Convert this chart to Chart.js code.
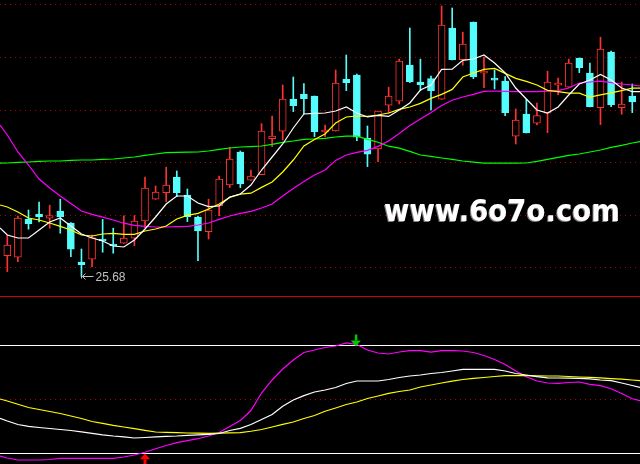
<!DOCTYPE html>
<html>
<head>
<meta charset="utf-8">
<script src="https://cdn.jsdelivr.net/npm/chart.js@4.4.1/dist/chart.umd.min.js"></script>
<style>
html, body { margin: 0; padding: 0; background: #000; }
#wrap { width: 640px; height: 464px; background: #000; }
canvas { display: block; }
</style>
</head>
<body>
<div id="wrap">
<canvas id="kline" width="640" height="296"></canvas>
<canvas id="kdj" width="640" height="168"></canvas>
</div>
<script>
// daily candles, oldest first
const opens = [
  26.72, 26.64, 28.55, 28.80, 28.59, 28.95, 28.34, 26.39, 26.54, 27.50,
  27.30, 27.34, 27.59, 28.45, 29.54, 29.87, 30.65, 29.74, 28.65, 27.92,
  29.22, 30.25, 31.90, 30.49, 30.77, 32.57, 32.94, 34.55, 34.80, 34.70,
  32.90, 32.95, 35.55, 35.75, 32.60, 32.05, 34.24, 34.44, 36.24, 35.40,
  35.57, 34.54, 38.10, 36.52, 38.40, 35.84, 35.54, 35.45, 32.69, 33.80,
  33.34, 33.84, 35.24, 35.14, 36.60, 35.85, 34.12, 36.89, 34.12, 34.70
];
const highs = [
  27.75, 28.70, 29.00, 29.39, 29.24, 29.54, 28.37, 27.05, 27.74, 28.53,
  28.09, 28.71, 28.72, 30.64, 30.20, 31.14, 30.95, 30.05, 28.70, 29.54,
  30.70, 32.14, 31.95, 31.00, 33.32, 33.70, 35.25, 35.65, 35.32, 34.70,
  33.25, 36.00, 36.75, 35.80, 33.20, 33.95, 35.14, 36.55, 38.10, 36.54,
  35.70, 39.20, 39.10, 37.89, 38.40, 36.64, 36.00, 35.67, 34.05, 34.54,
  34.34, 35.94, 35.59, 36.55, 36.60, 36.34, 37.64, 36.94, 35.40, 35.30
];
const lows = [
  25.92, 26.42, 28.04, 28.40, 28.09, 27.84, 26.67, 25.68, 26.17, 26.89,
  26.84, 27.33, 27.22, 28.12, 29.53, 29.42, 29.67, 28.42, 26.47, 27.55,
  28.72, 30.12, 30.12, 30.48, 30.76, 32.17, 32.50, 33.92, 33.80, 32.67,
  32.67, 32.94, 34.97, 32.47, 31.17, 31.42, 33.84, 34.30, 35.37, 34.97,
  34.00, 34.53, 36.50, 36.24, 35.57, 35.12, 35.05, 33.72, 32.30, 32.85,
  33.25, 32.87, 34.77, 35.13, 35.87, 34.16, 33.27, 34.17, 33.79, 33.87
];
const closes = [
  27.24, 28.59, 28.32, 28.67, 28.72, 28.67, 27.04, 26.27, 27.62, 27.45,
  27.20, 27.60, 28.45, 30.09, 29.89, 30.24, 29.87, 28.67, 27.95, 28.99,
  30.54, 31.55, 30.30, 30.70, 32.95, 32.69, 34.54, 34.22, 34.57, 32.92,
  32.93, 35.34, 35.37, 32.64, 31.79, 33.94, 34.69, 36.44, 35.42, 35.27,
  34.97, 38.24, 36.52, 37.30, 35.67, 35.95, 35.49, 33.87, 33.50, 32.87,
  33.72, 35.39, 35.30, 36.34, 36.12, 34.17, 37.04, 34.25, 34.29, 34.40
];

// moving averages: first value sits at the left canvas edge, last at the right edge
const ma5 = [28.10,
  27.75, 27.60, 27.60, 28.00, 28.40, 28.60, 28.20, 27.80, 27.60, 27.45,
  27.20, 27.15, 27.50, 28.05, 28.65, 29.30, 29.70, 29.70, 29.35, 29.17,
  29.20, 29.65, 29.80, 30.25, 31.00, 31.65, 32.30, 33.10, 33.80, 33.83,
  33.85, 33.95, 34.15, 33.85, 33.65, 33.73, 33.68, 34.00, 34.35, 35.00,
  35.25, 36.03, 36.04, 36.48, 36.55, 36.75, 36.35, 35.85, 35.10, 34.55,
  34.00, 33.85, 34.15, 34.75, 35.30, 35.50, 35.78, 35.50, 35.10, 34.92,
  34.92];
const ma10 = [29.25,
  29.15, 28.90, 28.60, 28.50, 28.35, 28.18, 28.00, 27.75, 27.70, 27.80,
  27.83, 27.78, 27.78, 27.95, 28.05, 28.20, 28.55, 28.73, 28.83, 29.05,
  29.30, 29.63, 29.79, 29.84, 30.13, 30.40, 30.90, 31.50, 32.20, 32.53,
  32.80, 33.35, 33.65, 33.70, 33.68, 33.75, 33.85, 34.03, 34.15, 34.33,
  34.58, 34.78, 35.03, 35.65, 35.85, 36.03, 36.08, 35.83, 35.58, 35.43,
  35.25, 34.98, 34.92, 34.84, 34.84, 34.64, 34.76, 34.86, 34.97, 35.09,
  35.09];
const ma20 = [33.25,
  32.75, 31.90, 31.25, 30.55, 30.10, 29.70, 29.33, 28.95, 28.78, 28.64,
  28.50, 28.34, 28.23, 28.18, 28.15, 28.15, 28.17, 28.18, 28.25, 28.35,
  28.53, 28.70, 28.83, 28.93, 29.10, 29.30, 29.70, 30.08, 30.43, 30.75,
  31.00, 31.48, 31.75, 31.88, 31.98, 32.18, 32.45, 32.83, 33.23, 33.55,
  33.88, 34.23, 34.49, 34.65, 34.78, 34.93, 34.95, 34.93, 34.92, 34.92,
  34.92, 34.94, 34.97, 35.10, 35.35, 35.40, 35.44, 35.37, 35.30, 35.25,
  35.20];
const ma60 = [31.34,
  31.35, 31.38, 31.40, 31.43, 31.45, 31.45, 31.48, 31.50, 31.50, 31.53,
  31.55, 31.60, 31.65, 31.73, 31.80, 31.87, 31.88, 31.89, 31.90, 31.95,
  32.03, 32.10, 32.15, 32.17, 32.20, 32.28, 32.38, 32.45, 32.53, 32.55,
  32.58, 32.65, 32.69, 32.69, 32.53, 32.39, 32.19, 32.09, 31.93, 31.75,
  31.68, 31.60, 31.53, 31.45, 31.39, 31.34, 31.34, 31.34, 31.34, 31.35,
  31.43, 31.53, 31.63, 31.73, 31.80, 31.90, 32.00, 32.13, 32.23, 32.35,
  32.42];

// KDJ indicator, same edge convention
const kLine = [39.28,
  37.78, 35.83, 34.83, 34.17, 33.61, 33.06, 32.50, 31.78, 30.94, 30.11,
  29.44, 29.00, 28.33, 28.61, 29.00, 29.28, 29.44, 29.83, 30.11, 30.39,
  30.83, 32.50, 33.72, 35.83, 38.61, 41.39, 46.00, 49.44, 51.90, 53.89,
  55.00, 56.39, 58.61, 60.00, 60.00, 60.00, 60.83, 61.94, 62.78, 63.33,
  64.17, 64.72, 65.56, 66.50, 66.50, 66.50, 66.50, 65.56, 64.17, 63.33,
  62.39, 61.78, 61.67, 61.56, 61.50, 61.22, 60.56, 60.17, 58.89, 57.50,
  56.50];
const dLine = [50.00,
  48.89, 47.06, 45.28, 44.17, 43.06, 41.94, 40.56, 39.17, 37.50, 36.50,
  35.39, 34.44, 33.50, 32.61, 31.67, 31.44, 31.28, 31.11, 31.00, 30.94,
  31.00, 31.17, 31.28, 32.10, 33.06, 34.44, 35.94, 37.22, 39.17, 40.83,
  43.17, 45.00, 46.94, 48.33, 50.28, 51.67, 53.17, 54.17, 55.00, 56.67,
  57.78, 58.89, 59.89, 60.83, 61.44, 61.94, 62.50, 62.94, 62.94, 62.94,
  62.89, 62.78, 62.78, 62.50, 62.22, 62.06, 61.72, 61.33, 61.06, 60.56,
  60.17];
const jLine = [18.33,
  17.22, 16.11, 16.11, 16.11, 16.39, 17.06, 17.06, 17.06, 17.06, 17.06,
  17.06, 17.78, 18.89, 20.39, 22.39, 24.17, 25.72, 26.89, 27.94, 29.44,
  31.39, 34.72, 38.06, 43.61, 53.33, 60.56, 66.67, 71.67, 75.83, 77.22,
  78.61, 79.44, 81.22, 80.28, 77.22, 75.56, 75.00, 76.11, 76.83, 76.83,
  76.00, 76.83, 76.83, 76.67, 75.83, 74.17, 71.94, 69.17, 65.56, 62.39,
  60.00, 58.89, 58.72, 59.17, 59.44, 58.17, 57.44, 55.72, 53.06, 50.11,
  49.06];

const priceGrid = [39.30, 36.65, 34.00, 31.40, 28.75, 26.15];
const kdjLevels = [80, 20];
const kdjMid = 50;
const buySignals = [13];   // candle index of the up arrow
const sellSignals = [33];  // candle index of the down arrow
const watermark = 'www.6o7o.com';

const xLeft = -0.69, xRight = 59.73;
const RED = '#ff3232', CYAN = '#54fcfc';

function edgePoints(vals) {
  const n = vals.length;
  return vals.map((v, i) => ({ x: i === 0 ? xLeft : (i === n - 1 ? xRight : i - 1), y: v }));
}

const isUp = opens.map((o, i) => closes[i] >= o);
const bodyData = opens.map((o, i) => ({ x: i, y: [o, closes[i]] }));
const wickData = lows.map((l, i) => ({ x: i, y: [l, highs[i]] }));

function lineSet(data, color, order) {
  return {
    type: 'line', data: edgePoints(data), borderColor: color, borderWidth: 1.2,
    pointRadius: 0, tension: 0, fill: false, order: order
  };
}

function dotted(ctx, area, py, color) {
  ctx.save();
  ctx.strokeStyle = color;
  ctx.lineWidth = 1;
  ctx.setLineDash([1, 4]);
  ctx.beginPath();
  ctx.moveTo(area.left, Math.round(py) + 0.5);
  ctx.lineTo(area.right, Math.round(py) + 0.5);
  ctx.stroke();
  ctx.restore();
}

const upperDeco = {
  id: 'upperDeco',
  beforeDraw(chart) {
    const ctx = chart.ctx;
    ctx.fillStyle = '#000';
    ctx.fillRect(0, 0, chart.width, chart.height);
  },
  beforeDatasetsDraw(chart) {
    const y = chart.scales.y;
    priceGrid.forEach(p => dotted(chart.ctx, chart.chartArea, y.getPixelForValue(p), '#b00000'));
  },
  afterDraw(chart) {
    const ctx = chart.ctx;
    const xs = chart.scales.x, ys = chart.scales.y;
    // lowest low marker
    const li = lows.indexOf(Math.min(...lows));
    const ax = Math.round(xs.getPixelForValue(li)) + 0.5;
    const py = ys.getPixelForValue(lows[li]);
    const ay = Math.round(py) + 0.5;
    ctx.save();
    ctx.strokeStyle = '#c0c0c0';
    ctx.lineWidth = 1;
    ctx.beginPath();
    ctx.moveTo(ax, ay - 2); ctx.lineTo(ax, ay + 2);
    ctx.moveTo(ax + 1, ay); ctx.lineTo(ax + 12, ay);
    ctx.moveTo(ax + 4, ay - 3); ctx.lineTo(ax + 1, ay); ctx.lineTo(ax + 4, ay + 3);
    ctx.stroke();
    ctx.fillStyle = '#c0c0c0';
    ctx.font = '12px "Liberation Sans", Arial, sans-serif';
    ctx.textBaseline = 'middle';
    ctx.fillText(lows[li].toFixed(2), ax + 14, ay + 1);
    ctx.restore();

    // watermark
    ctx.save();
    ctx.font = 'bold 30px "DejaVu Sans", sans-serif';
    ctx.textBaseline = 'alphabetic';
    const w = ctx.measureText(watermark).width;
    ctx.translate(384, 221);
    ctx.scale(236 / w, 1);
    ctx.shadowColor = '#808080';
    ctx.shadowOffsetX = -1;
    ctx.shadowOffsetY = 1;
    ctx.fillStyle = '#ffffff';
    ctx.fillText(watermark, 0, 0);
    ctx.restore();
  }
};

new Chart(document.getElementById('kline'), {
  type: 'bar',
  data: {
    datasets: [
      lineSet(ma5, '#ffffff', 0),
      lineSet(ma10, '#ffff00', 1),
      lineSet(ma20, '#ff00ff', 2),
      lineSet(ma60, '#00ff00', 3),
      {
        type: 'bar', data: bodyData, order: 10, grouped: false,
        barThickness: 7, minBarLength: 2, borderWidth: 1, borderSkipped: false,
        backgroundColor: isUp.map(u => u ? '#000000' : CYAN),
        borderColor: isUp.map(u => u ? RED : CYAN)
      },
      {
        type: 'bar', data: wickData, order: 11, grouped: false,
        barThickness: 1, borderWidth: 0,
        backgroundColor: isUp.map(u => u ? RED : CYAN)
      }
    ]
  },
  options: {
    responsive: false,
    animation: false,
    devicePixelRatio: 1,
    events: [],
    layout: { padding: 0 },
    plugins: { legend: { display: false }, tooltip: { enabled: false } },
    scales: {
      x: { type: 'linear', display: false, min: xLeft, max: xRight, offset: false },
      y: { type: 'linear', display: false, min: 24.7, max: 39.5 }
    }
  },
  plugins: [upperDeco]
});

const lowerDeco = {
  id: 'lowerDeco',
  beforeDraw(chart) {
    const ctx = chart.ctx;
    ctx.fillStyle = '#000';
    ctx.fillRect(0, 0, chart.width, chart.height);
    ctx.fillStyle = '#d00000';
    ctx.fillRect(0, 0, chart.width, 1);
  },
  beforeDatasetsDraw(chart) {
    const ctx = chart.ctx, y = chart.scales.y, a = chart.chartArea;
    ctx.save();
    ctx.fillStyle = '#ffffff';
    kdjLevels.forEach(v => ctx.fillRect(a.left, Math.round(y.getPixelForValue(v)), a.right - a.left, 1));
    ctx.restore();
    dotted(ctx, a, y.getPixelForValue(kdjMid), '#b00000');
  },
  afterDatasetsDraw(chart) {
    const ctx = chart.ctx, xs = chart.scales.x, ys = chart.scales.y;
    ctx.save();
    buySignals.forEach(i => {
      const cx = xs.getPixelForValue(i);
      const tip = ys.getPixelForValue(jLine[i + 1]) + 1;
      ctx.fillStyle = '#ff0000';
      ctx.beginPath();
      ctx.moveTo(cx, tip); ctx.lineTo(cx + 5, tip + 6); ctx.lineTo(cx - 5, tip + 6);
      ctx.closePath(); ctx.fill();
      ctx.fillRect(cx - 1.5, tip + 6, 3, 6);
    });
    sellSignals.forEach(i => {
      const cx = xs.getPixelForValue(i) - 1;
      const tip = ys.getPixelForValue(jLine[i + 1]) + 2;
      ctx.fillStyle = '#00c800';
      ctx.beginPath();
      ctx.moveTo(cx, tip); ctx.lineTo(cx + 5, tip - 6); ctx.lineTo(cx - 5, tip - 6);
      ctx.closePath(); ctx.fill();
      ctx.fillRect(cx - 1, tip - 12, 2.5, 6);
    });
    ctx.restore();
  }
};

new Chart(document.getElementById('kdj'), {
  type: 'line',
  data: {
    datasets: [
      lineSet(kLine, '#ffffff', 0),
      lineSet(dLine, '#ffff00', 1),
      lineSet(jLine, '#ff00ff', 2)
    ]
  },
  options: {
    responsive: false,
    animation: false,
    devicePixelRatio: 1,
    events: [],
    layout: { padding: 0 },
    plugins: { legend: { display: false }, tooltip: { enabled: false } },
    scales: {
      x: { type: 'linear', display: false, min: xLeft, max: xRight, offset: false },
      y: { type: 'linear', display: false, min: 13.889, max: 107.222 }
    }
  },
  plugins: [lowerDeco]
});
</script>
</body>
</html>
